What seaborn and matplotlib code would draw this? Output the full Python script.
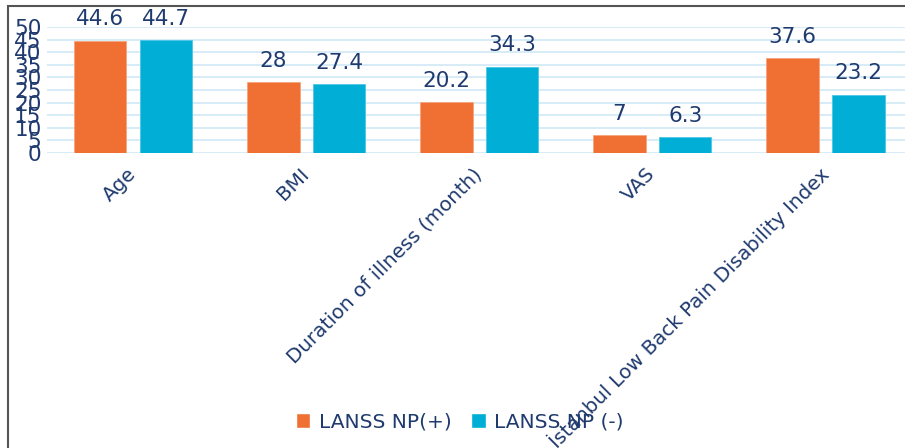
import matplotlib
matplotlib.use("Agg")
import matplotlib.pyplot as plt
import seaborn as sns
import pandas as pd
from matplotlib.patches import Rectangle

categories = ["Age", "BMI", "Duration of illness (month)", "VAS",
              "İstanbul Low Back Pain Disability Index"]
np_pos = [44.6, 28, 20.2, 7, 37.6]
np_neg = [44.7, 27.4, 34.3, 6.3, 23.2]
series_names = ["LANSS NP(+)", "LANSS NP (-)"]
value_labels_pos = ["44.6", "28", "20.2", "7", "37.6"]
value_labels_neg = ["44.7", "27.4", "34.3", "6.3", "23.2"]
yticks = list(range(0, 55, 5))

df = pd.DataFrame({
    "category": categories * 2,
    "value": np_pos + np_neg,
    "series": [series_names[0]] * len(categories) + [series_names[1]] * len(categories),
})

sns.set_theme(style="white")
plt.rcParams['font.family'] = ['DejaVu Sans']

navy = "#1F3A6E"
orange = "#F07033"
cyan = "#00AED6"

fig = plt.figure(figsize=(9.05, 4.48), dpi=100)
ax = fig.add_axes([47/905, 1 - 153/448, 1 - 47/905, (153 - 27)/448])

sns.barplot(data=df, x="category", y="value", hue="series",
            palette=[orange, cyan], saturation=1, width=0.76, gap=0.2, ax=ax,
            edgecolor="#f7a57c", linewidth=0.6, legend=True, zorder=3)
for bar, s in zip(ax.patches, ["p"] * 5 + ["n"] * 5):
    if s == "n":
        bar.set_edgecolor("#4cc6e4")

ax.set_ylim(0, 50)
ax.set_xlim(-0.497, 4.46)
ax.set_yticks(yticks)
ax.set_yticklabels([str(t) for t in yticks], fontsize=15.5, color=navy)
ax.yaxis.grid(True, color="#cfe9f6", linewidth=1.2, zorder=0)
ax.set_axisbelow(True)
for sp in ax.spines.values():
    sp.set_visible(False)
ax.tick_params(axis="both", length=0)
ax.tick_params(axis="y", pad=4)
ax.set_xlabel("")
ax.set_ylabel("")
ax.set_xticks(range(len(categories)))
ax.set_xticklabels(categories, rotation=45, ha="right", va="center",
                   rotation_mode="anchor", fontsize=14.3, color=navy)
ax.tick_params(axis="x", pad=13)

conts = ax.containers
ax.bar_label(conts[0], labels=value_labels_pos, padding=8, fontsize=15.5, color=navy)
ax.bar_label(conts[1], labels=value_labels_neg, padding=8, fontsize=15.5, color=navy)

ax.get_legend().remove()
handles = [Rectangle((0, 0), 1, 1, facecolor=orange), Rectangle((0, 0), 1, 1, facecolor=cyan)]
fig.legend(handles, series_names, loc="center", bbox_to_anchor=(0.508, 0.058),
           ncol=2, frameon=False, fontsize=14.5, labelcolor=navy,
           handlelength=0.7, handleheight=0.7, handletextpad=0.4, columnspacing=1.0)

fig.patches.append(Rectangle((8/905, -0.2), 1.2, 1 - 6/448 + 0.2,
                             transform=fig.transFigure, fill=False,
                             edgecolor="#555555", linewidth=1.5, zorder=10))

fig.savefig("out.png", dpi=100)
